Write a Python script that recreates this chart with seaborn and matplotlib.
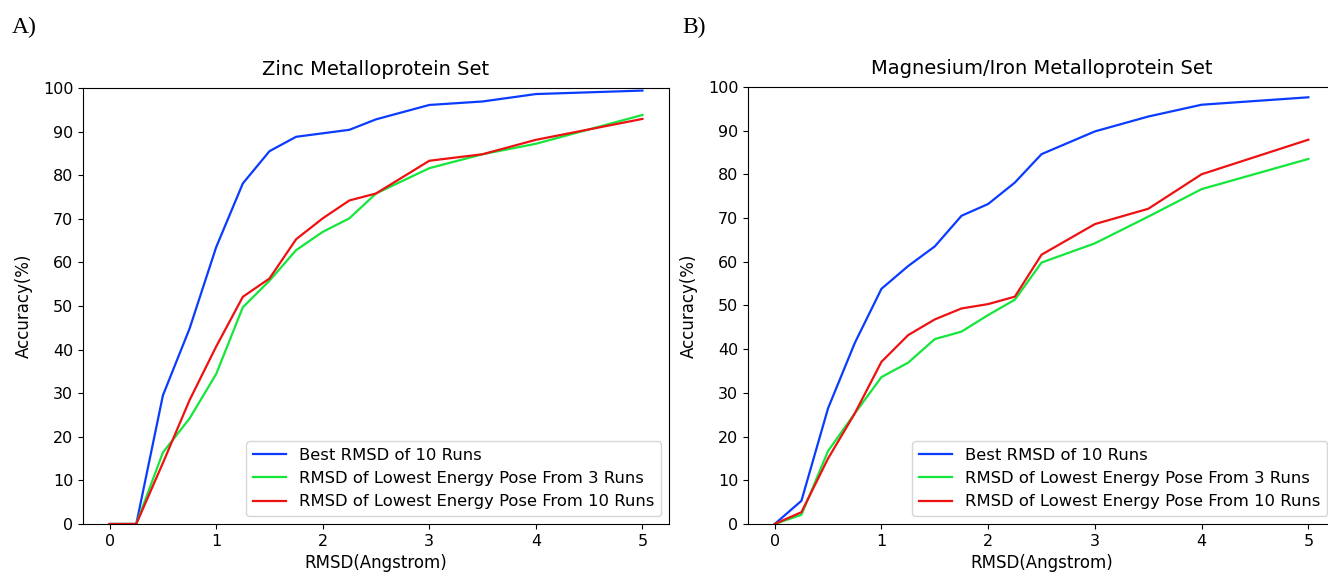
import pandas as pd
import matplotlib.pyplot as plt
import seaborn as sns

rmsd = [0, 0.25, 0.5, 0.75, 1, 1.25, 1.5, 1.75, 2, 2.25, 2.5, 3, 3.5, 4, 5]

series_names = ['Best RMSD of 10 Runs',
                'RMSD of Lowest Energy Pose From 3 Runs',
                'RMSD of Lowest Energy Pose From 10 Runs']
colors = ['#0a3cff', '#14e63c', '#ee1111']

# Zinc set
zinc_best = [0, 0, 29.5, 44.8, 63.5, 78.1, 85.5, 88.8, 89.6, 90.4, 92.8, 96.1, 96.9, 98.6, 99.4]
zinc_low3 = [0, 0, 16.4, 24.2, 34.4, 49.7, 55.8, 62.8, 67.0, 70.1, 75.8, 81.6, 84.8, 87.2, 93.8]
zinc_low10 = [0, 0, 14.0, 28.4, 40.7, 52.1, 56.3, 65.3, 70.1, 74.2, 75.8, 83.3, 84.8, 88.1, 92.9]

# Magnesium/Iron set
mgfe_best = [0, 5.3, 26.5, 41.4, 53.8, 59.0, 63.5, 70.5, 73.2, 78.1, 84.6, 89.8, 93.2, 95.9, 97.6]
mgfe_low3 = [0, 2.1, 16.7, 25.3, 33.6, 36.9, 42.3, 44.0, 47.8, 51.3, 59.8, 64.2, 70.3, 76.6, 83.5]
mgfe_low10 = [0, 2.7, 15.0, 25.3, 37.1, 43.2, 46.8, 49.3, 50.3, 52.0, 61.6, 68.6, 72.1, 80.0, 87.9]


def draw_panel(ax, title, curves):
    for name, vals, c in zip(series_names, curves, colors):
        df = pd.DataFrame({'rmsd': rmsd, 'acc': vals})
        sns.lineplot(data=df, x='rmsd', y='acc', color=c, label=name, linewidth=1.6, ax=ax)
    ax.set_title(title, fontsize=14, pad=9)
    ax.set_xlabel('RMSD(Angstrom)', fontsize=12)
    ax.set_ylabel('Accuracy(%)', fontsize=12, labelpad=7)
    ax.set_xlim(-0.25, 5.25)
    ax.set_ylim(0, 100)
    ax.set_yticks(range(0, 101, 10))
    ax.tick_params(labelsize=11.5)
    ax.legend(loc='lower right', fontsize=11.8)


fig = plt.figure(figsize=(13.28, 5.76), dpi=100)
ax1 = fig.add_axes([0.0625, 0.0903, 0.4413, 0.757])
ax2 = fig.add_axes([0.5633, 0.0903, 0.442, 0.759])

draw_panel(ax1, 'Zinc Metalloprotein Set', [zinc_best, zinc_low3, zinc_low10])
draw_panel(ax2, 'Magnesium/Iron Metalloprotein Set', [mgfe_best, mgfe_low3, mgfe_low10])

fig.text(0.009, 0.953, 'A)', family='Liberation Serif', fontsize=17, va='center')
fig.text(0.514, 0.953, 'B)', family='Liberation Serif', fontsize=17, va='center')

fig.savefig('out.png', dpi=100)
